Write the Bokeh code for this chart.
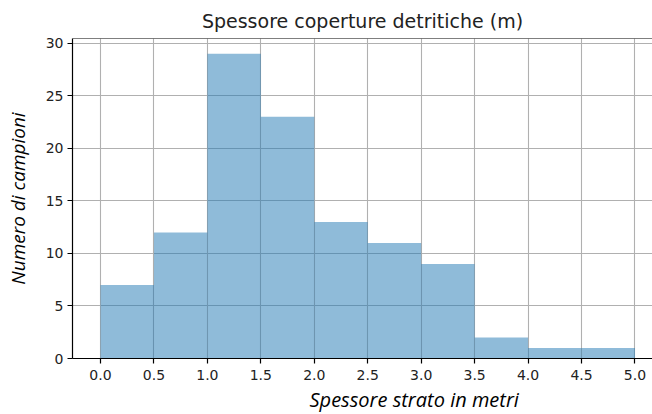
from bokeh.plotting import figure
from bokeh.models import ColumnDataSource, FixedTicker, NumeralTickFormatter, Span, Range1d, Title
from bokeh.embed import file_html
from bokeh.resources import INLINE

# Histogram of debris-cover thickness: bin edges (m) and counts per bin
bin_left = [0.0, 0.5, 1.0, 1.5, 2.0, 2.5, 3.0, 3.5, 4.0, 4.5]
bin_right = [0.5, 1.0, 1.5, 2.0, 2.5, 3.0, 3.5, 4.0, 4.5, 5.0]
counts = [7, 12, 29, 23, 13, 11, 9, 2, 1, 1]

x_ticks = [0.0, 0.5, 1.0, 1.5, 2.0, 2.5, 3.0, 3.5, 4.0, 4.5, 5.0]
y_ticks = [0, 5, 10, 15, 20, 25, 30]

title_text = "Spessore coperture detritiche (m)"
x_label_text = "Spessore strato in metri"
y_label_text = "Numero di campioni"

source = ColumnDataSource(dict(left=bin_left, right=bin_right, top=counts,
                               bottom=[0] * len(counts)))

y_end = max(counts) * 1.05

p = figure(width=652, height=414, output_backend="svg", toolbar_location=None,
           x_range=Range1d(-0.262, 5.164), y_range=Range1d(0, y_end),
           min_border_left=72, min_border_right=0, min_border_top=38,
           min_border_bottom=55)

p.title.text = title_text
p.title.text_font = "DejaVu Sans"
p.title.text_font_size = "19px"
p.title.text_font_style = "normal"
p.title.text_color = "#222222"
p.title.align = "center"
p.title.standoff = 13

p.quad(left="left", right="right", top="top", bottom="bottom", source=source,
       fill_color="#1f77b4", fill_alpha=0.5, line_color=None)

p.outline_line_color = None
# top spine
p.add_layout(Span(location=y_end, dimension="width", line_color="black", line_width=1.2))

for ax in (p.xaxis[0], p.yaxis[0]):
    ax.axis_line_color = "black"
    ax.axis_line_width = 1.2
    ax.major_tick_line_color = "black"
    ax.major_tick_line_width = 1.2
    ax.major_tick_out = 5
    ax.major_tick_in = 0
    ax.minor_tick_line_color = None
    ax.major_label_text_font = "DejaVu Sans"
    ax.major_label_text_font_size = "14px"
    ax.major_label_text_color = "#222222"

p.xaxis.ticker = FixedTicker(ticks=x_ticks)
p.xaxis.formatter = NumeralTickFormatter(format="0.0")
p.xaxis.major_label_standoff = 6
p.yaxis.ticker = FixedTicker(ticks=y_ticks)
p.yaxis.major_label_standoff = 4

p.yaxis.axis_label = y_label_text
p.yaxis.axis_label_text_font = "Open Sans"
p.yaxis.axis_label_text_font_style = "italic"
p.yaxis.axis_label_text_font_size = "19px"
p.yaxis.axis_label_text_color = "black"
p.yaxis.axis_label_standoff = 12

p.xgrid.grid_line_color = "#b0b0b0"
p.ygrid.grid_line_color = "#b0b0b0"
p.xgrid.grid_line_width = 1.1
p.ygrid.grid_line_width = 1.1
p.xgrid.ticker = FixedTicker(ticks=x_ticks)
p.ygrid.ticker = FixedTicker(ticks=y_ticks)

# x-axis caption, set below the tick labels and shifted to the right
x_caption = Title(text=x_label_text, align="left", offset=237,
                  text_font="Open Sans", text_font_style="italic",
                  text_font_size="20px", text_color="black", standoff=3)
p.add_layout(x_caption, "below")

p.background_fill_color = "white"
p.border_fill_color = "white"

open("out.html", "w").write(file_html(p, INLINE))
